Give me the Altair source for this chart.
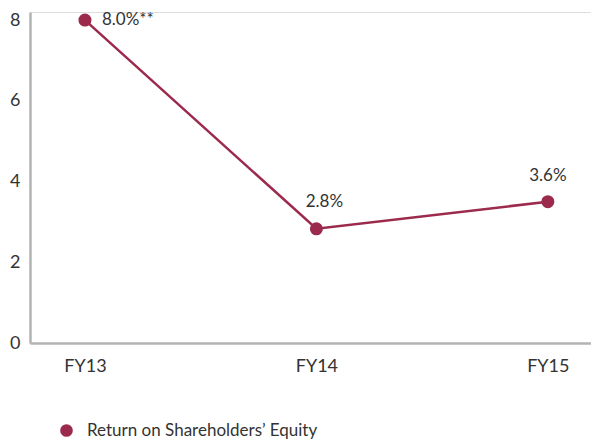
import altair as alt
import pandas as pd

years = ["FY13", "FY14", "FY15"]
roe = [8.0, 2.83, 3.5]
labels = ["8.0%**", "2.8%", "3.6%"]
series = ["Return on Shareholders’ Equity"] * 3

df = pd.DataFrame({"year": years, "roe": roe, "label": labels, "series": series})

MAROON = "#9c2a4d"
GRAY = "#b3b3b3"
FONT = "Lato"
TXT = "#333333"

x = alt.X("year:N", sort=years, title=None,
          scale=alt.Scale(type="point", padding=0.212, align=0.56),
          axis=alt.Axis(labelAngle=0, ticks=False, labelPadding=14, labelFontSize=18,
                        labelFont=FONT, labelColor=TXT, domainColor=GRAY, domainWidth=2.5))
y = alt.Y("roe:Q", title=None,
          scale=alt.Scale(domain=[0, 8.2], nice=False),
          axis=alt.Axis(values=[0, 2, 4, 6, 8], ticks=False, grid=False, labelPadding=10,
                        labelFontSize=18, labelFont=FONT, labelColor=TXT,
                        domainColor=GRAY, domainWidth=2.5))

base = alt.Chart(df)

line = base.mark_line(color=MAROON, strokeWidth=2.5).encode(x=x, y=y)
pts = base.mark_point(filled=True, size=170, opacity=1, shape="circle").encode(
    x=x, y=y,
    color=alt.Color("series:N", title=None,
                    scale=alt.Scale(range=[MAROON]),
                    legend=alt.Legend(orient="none", legendX=28, legendY=410,
                                      symbolType="circle", symbolSize=160,
                                      symbolStrokeWidth=0, labelFontSize=17,
                                      labelFont=FONT, labelColor=TXT, labelOffset=12,
                                      padding=0, labelLimit=400)),
)

t1 = base.transform_filter(alt.datum.year == "FY13").mark_text(
    align="left", baseline="middle", dx=17, dy=0, fontSize=17, font=FONT, color=TXT
).encode(x=x, y=y, text="label:N")
t2 = base.transform_filter(alt.datum.year == "FY14").mark_text(
    align="center", baseline="middle", dx=8, dy=-27, fontSize=17, font=FONT, color=TXT
).encode(x=x, y=y, text="label:N")
t3 = base.transform_filter(alt.datum.year == "FY15").mark_text(
    align="center", baseline="middle", dx=0, dy=-26, fontSize=17, font=FONT, color=TXT
).encode(x=x, y=y, text="label:N")

chart = alt.layer(line, pts, t1, t2, t3).properties(
    width=561, height=331,
    autosize=alt.AutoSizeParams(type="none"),
    padding={"left": 22, "top": 4, "right": 0, "bottom": 96},
).configure_view(stroke=None).configure(background="white")

chart.save("out.html", embed_options={"renderer": "svg", "actions": False})
